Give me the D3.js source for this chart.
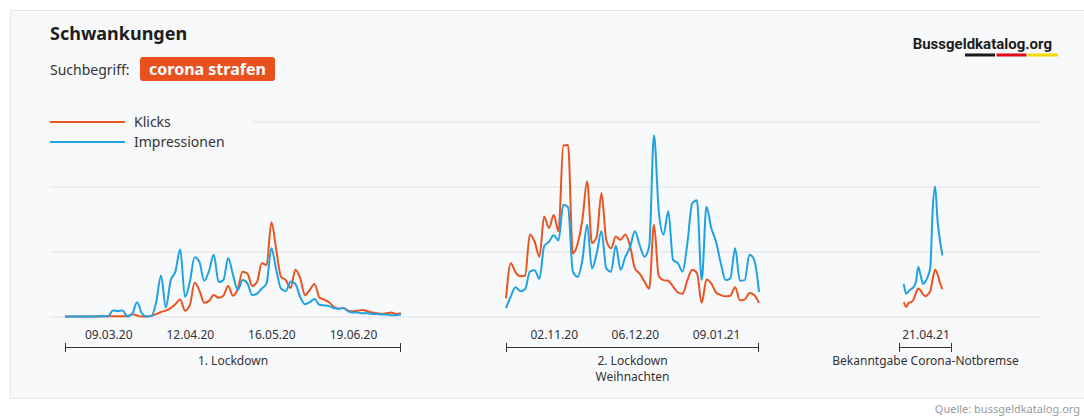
<!DOCTYPE html>
<html>
<head>
<meta charset="utf-8">
<script src="https://cdn.jsdelivr.net/npm/d3@7"></script>
<style>
  body { margin: 0; background: #fff; font-family: "Noto Sans", sans-serif; }
</style>
</head>
<body>
<svg id="chart" width="1084" height="416"></svg>
<script>
// Zeitraum 1: ab 20.02.20, alle 2 Tage
const klicks1 = [0,0,0,0,0,0,0,0,0.5,0.5,0.5,0.5,0.5,0.5,3.6,1.5,0,0,1,3.6,7,9,13,19,26,9,17,52,40,21,24,33,29,32,47,32,43,69,66,47,53,82,79,145,103,61,56,44,72,59,33,41,50,29,26,22,15,12,13,9,8,9,10,8,6,5,4,5,6,4,5];
const impressionen1 = [0,0,0,0,0,0,0,0.5,0.5,0.5,9.3,8.3,9.3,0,4,22,5,0,1,22,63,14,55,69,103,30,53,91,84,55,70,95,53,56,90,64,41,56,51,33,35,43,51,105,72,43,39,54,50,30,19,22,27,18,17,16,13,12,13,8,6,6,5,5,4,4,3,3,2,2,3];

// Zeitraum 2: ab 13.10.20, alle 2 Tage
const klicks2 = [28,82,68,62,63,126,115,92,154,136,156,131,263,264,97,112,149,208,113,123,190,118,105,123,118,126,108,74,66,54,43,141,62,56,55,46,37,35,56,72,67,21,57,51,37,33,31,32,45,25,26,36,33,21];
const impressionen2 = [12.8,31,45,39,42,69,71,58,108,115,125,117,172,168,69,61,87,141,74,97,131,74,69,109,72,92,107,131,110,92,108,279,162,126,162,87,82,69,113,174,179,56,169,136,115,82,56,59,105,55,56,95,87,38];

// Zeitraum 3: ab 12.04.21, täglich
const klicks3 = [22,15,21,22,26,36,43,40,34,31,34,39,58,72,65,52,42];
const impressionen3 = [50,35,39,42,45,53,76,63,50,54,62,76,166,200,148,117,94];

const seriesStart = ["2020-02-20", "2020-10-13", "2021-04-12"];
const seriesStep = [2, 2, 1];

const periodStarts = ["2020-02-20", "2020-10-13", "2021-04-10"];
const periodEnds = ["2020-07-09", "2021-01-27", "2021-05-02"];
const periodLabels = [["1. Lockdown"], ["2. Lockdown", "Weihnachten"], ["Bekanntgabe Corona-Notbremse"]];

const tickDates = ["2020-03-09", "2020-04-12", "2020-05-16", "2020-06-19", "2020-11-02", "2020-12-06", "2021-01-09", "2021-04-21"];
const yTicks = [0, 100, 200, 300];

const orange = "#ea5420", blue = "#1ea2e2", cardFill = "#f8f9fb";

const parse = d3.timeParse("%Y-%m-%d");
const svg = d3.select("#chart");

svg.append("rect")
  .attr("x", 10.5).attr("y", 10.5).attr("width", 1090).attr("height", 388)
  .attr("fill", cardFill).attr("stroke", "#e3e5e8");

// eine Zeitachse mit Lücken zwischen den Zeiträumen
const x = d3.scaleTime()
  .domain([periodStarts[0], periodEnds[0], periodStarts[1], periodEnds[1], periodStarts[2], periodEnds[2]].map(parse))
  .range([65, 401, 506, 759, 899, 952]);
const y = d3.scaleLinear().domain([0, 300]).range([316.5, 121.5]);

svg.append("g")
  .attr("transform", "translate(50,0)")
  .call(d3.axisLeft(y).tickValues(yTicks).tickSize(-990).tickFormat(""))
  .call(g => g.select(".domain").remove())
  .call(g => g.selectAll("line").attr("stroke", "#dfe0e3"));

// Titel
svg.append("text").attr("x", 50).attr("y", 40)
  .attr("font-size", 18).attr("font-weight", 700).attr("fill", "#1d1d1d")
  .text("Schwankungen");
svg.append("text").attr("x", 50).attr("y", 75)
  .attr("font-size", 14).attr("fill", "#333")
  .text("Suchbegriff:");
svg.append("rect").attr("x", 140).attr("y", 57).attr("width", 135).attr("height", 24).attr("rx", 3)
  .attr("fill", "#e8501e");
svg.append("text").attr("x", 207.5).attr("y", 74.5).attr("text-anchor", "middle")
  .attr("font-size", 16).attr("font-weight", 700).attr("fill", "#fff")
  .text("corona strafen");

// Logo
svg.append("text").attr("x", 1052).attr("y", 49).attr("text-anchor", "end")
  .attr("font-family", "Roboto").attr("font-size", 15).attr("font-weight", 700).attr("fill", "#1d1d1d")
  .text("Bussgeldkatalog.org");
[["#1a1a1a", 965], ["#e30613", 996.5], ["#f7d900", 1028]].forEach(([c, x0]) => {
  svg.append("rect").attr("x", x0).attr("y", 53.5).attr("width", 30).attr("height", 3).attr("fill", c);
});

// Legende
const legend = svg.append("g");
legend.append("rect").attr("x", 40).attr("y", 105).attr("width", 213).attr("height", 50).attr("fill", cardFill);
[["Klicks", orange], ["Impressionen", blue]].forEach(([name, c], i) => {
  legend.append("line").attr("x1", 50).attr("x2", 125).attr("y1", 122 + i * 20).attr("y2", 122 + i * 20)
    .attr("stroke", c).attr("stroke-width", 2);
  legend.append("text").attr("x", 134).attr("y", 127 + i * 20)
    .attr("font-size", 14).attr("fill", "#333").text(name);
});

// Linien
const klicks = [klicks1, klicks2, klicks3];
const impressionen = [impressionen1, impressionen2, impressionen3];

klicks.forEach((k, s) => {
  const start = parse(seriesStart[s]);
  const dates = k.map((d, i) => d3.timeDay.offset(start, i * seriesStep[s]));
  const line = d3.line()
    .x((d, i) => x(dates[i]))
    .y(d => y(d))
    .curve(d3.curveMonotoneX);
  svg.append("path").datum(k)
    .attr("fill", "none").attr("stroke", orange).attr("stroke-width", 2).attr("d", line);
  svg.append("path").datum(impressionen[s])
    .attr("fill", "none").attr("stroke", blue).attr("stroke-width", 2).attr("d", line);
});

// Datumsachse
svg.append("g")
  .attr("transform", "translate(0,316.5)")
  .call(d3.axisBottom(x).tickValues(tickDates.map(parse)).tickFormat(d3.timeFormat("%d.%m.%y")).tickSize(0).tickPadding(14))
  .call(g => g.select(".domain").remove())
  .call(g => g.selectAll("text").attr("font-family", "Noto Sans").attr("font-size", 12).attr("fill", "#333"));

// Zeiträume
periodStarts.forEach((s, i) => {
  const x0 = x(parse(s)), x1 = x(parse(periodEnds[i]));
  const g = svg.append("g").attr("stroke", "#333").attr("stroke-width", 1);
  g.append("line").attr("x1", x0).attr("x2", x1).attr("y1", 347.5).attr("y2", 347.5);
  g.append("line").attr("x1", x0 + 0.5).attr("x2", x0 + 0.5).attr("y1", 343).attr("y2", 352);
  g.append("line").attr("x1", x1 - 0.5).attr("x2", x1 - 0.5).attr("y1", 343).attr("y2", 352);
  periodLabels[i].forEach((t, j) => {
    svg.append("text").attr("x", (x0 + x1) / 2).attr("y", 365 + j * 16)
      .attr("text-anchor", "middle").attr("font-size", 12).attr("fill", "#333").text(t);
  });
});

svg.append("text").attr("x", 1080).attr("y", 413).attr("text-anchor", "end")
  .attr("font-size", 11).attr("fill", "#9a9a9a")
  .text("Quelle: bussgeldkatalog.org");
</script>
</body>
</html>
